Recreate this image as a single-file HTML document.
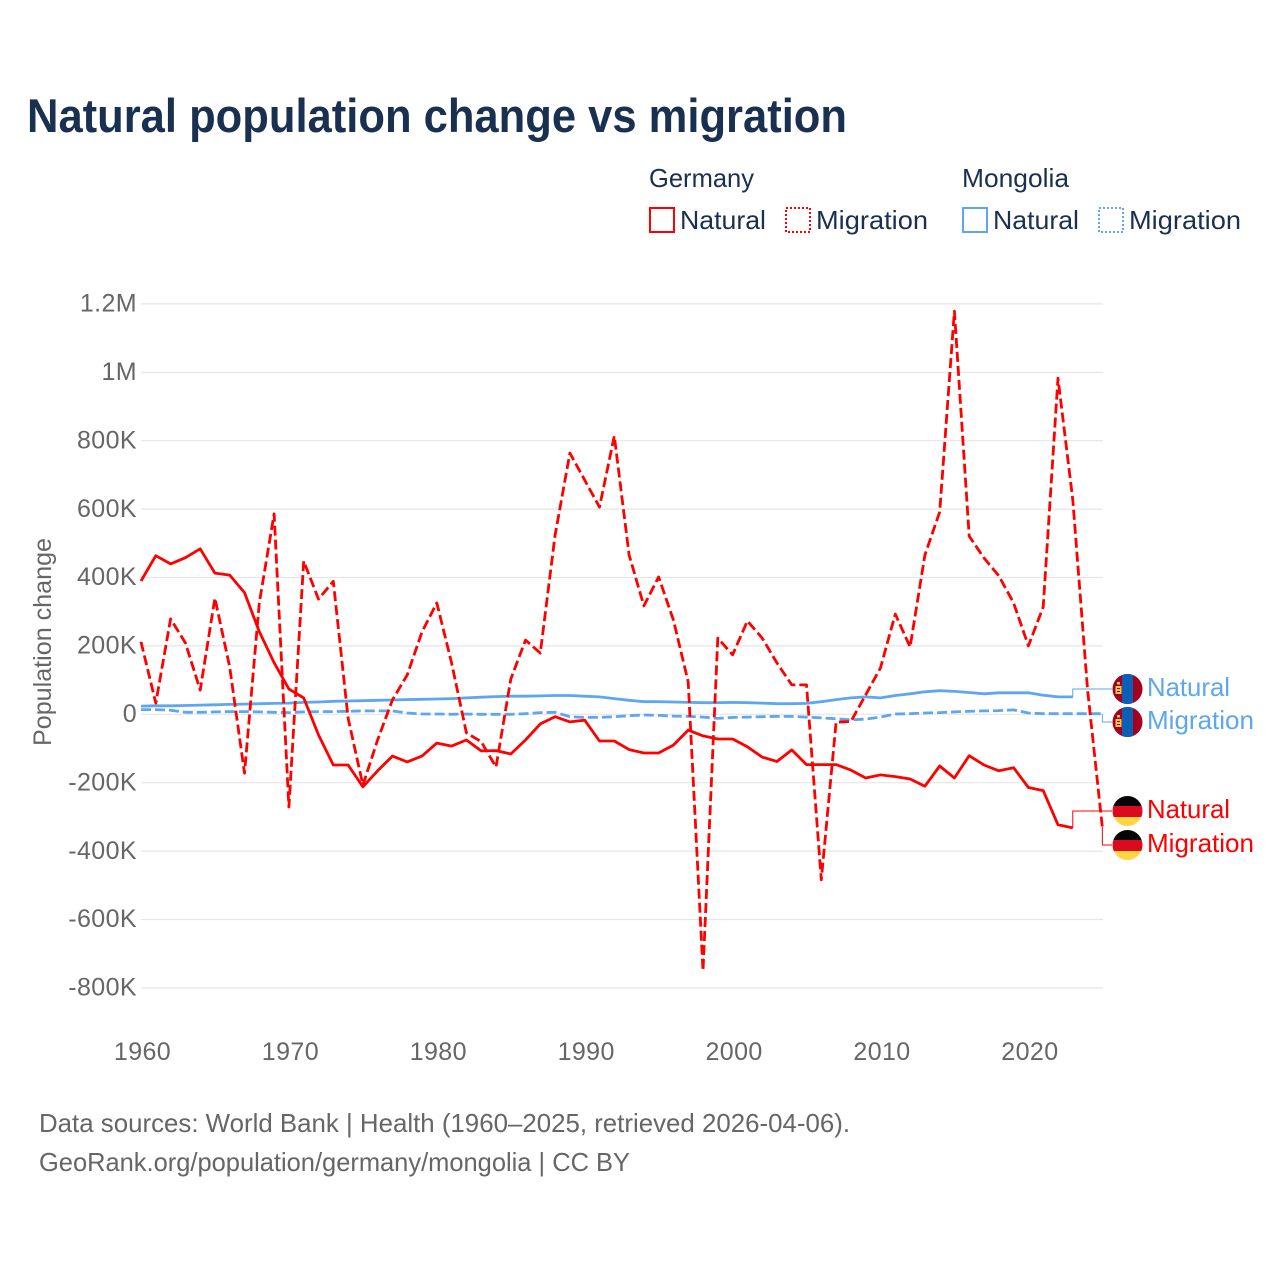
<!DOCTYPE html>
<html lang="en">
<head>
<meta charset="utf-8">
<title>Natural population change vs migration</title>
<style>
html,body{margin:0;padding:0;background:#fff;width:1280px;height:1280px;overflow:hidden}
svg{display:block}
text{font-family:"Liberation Sans",sans-serif}
.dark{fill:#1a3050}
.grey{fill:#666}
.tick{font-size:25px;fill:#666;letter-spacing:.4px}
.lab{font-size:26px}
</style>
</head>
<body>
<svg id="chart" width="1280" height="1280" viewBox="0 0 1280 1280" xmlns="http://www.w3.org/2000/svg">
  <defs>
    <clipPath id="flag-clip"><circle cx="0" cy="0" r="15"></circle></clipPath>
    <g id="flag-mn">
      <g clip-path="url(#flag-clip)">
        <rect x="-15" y="-15" width="30" height="30" fill="#a5001f"></rect>
        <rect x="-5.5" y="-15" width="11" height="30" fill="#0b5fb5"></rect>
        <rect x="-12" y="-3" width="6" height="8" fill="#f6c945"></rect>
        <rect x="-10.5" y="-7" width="3" height="2.5" fill="#f6c945"></rect>
        <rect x="-10.5" y="-1" width="3" height="1" fill="#a5001f"></rect>
        <rect x="-10.5" y="2" width="3" height="1" fill="#a5001f"></rect>
      </g>
    </g>
    <g id="flag-de">
      <g clip-path="url(#flag-clip)">
        <rect x="-15" y="-15" width="30" height="10" fill="#050505"></rect>
        <rect x="-15" y="-5" width="30" height="11" fill="#dc0a1e"></rect>
        <rect x="-15" y="6" width="30" height="10" fill="#ffd544"></rect>
      </g>
    </g>
  </defs>

  <text class="dark" x="27" y="132" font-size="47" font-weight="700" textLength="820" lengthAdjust="spacingAndGlyphs">Natural population change vs migration</text>

  <g>
    <text class="dark lab" x="649" y="187" textLength="105" lengthAdjust="spacingAndGlyphs">Germany</text>
    <text class="dark lab" x="962" y="187" textLength="107" lengthAdjust="spacingAndGlyphs">Mongolia</text>
    <rect x="650" y="208" width="24" height="24" fill="none" stroke="#ff0000" stroke-width="2"></rect>
    <text class="dark lab" x="680" y="229" textLength="86" lengthAdjust="spacingAndGlyphs">Natural</text>
    <rect x="786" y="208" width="24" height="24" fill="none" stroke="#ff0000" stroke-width="2" stroke-dasharray="2,2"></rect>
    <text class="dark lab" x="816" y="229" textLength="112" lengthAdjust="spacingAndGlyphs">Migration</text>
    <rect x="963" y="208" width="24" height="24" fill="none" stroke="#5ea6ee" stroke-width="2"></rect>
    <text class="dark lab" x="993" y="229" textLength="86" lengthAdjust="spacingAndGlyphs">Natural</text>
    <rect x="1099" y="208" width="24" height="24" fill="none" stroke="#5ea6ee" stroke-width="2" stroke-dasharray="2,2"></rect>
    <text class="dark lab" x="1129" y="229" textLength="112" lengthAdjust="spacingAndGlyphs">Migration</text>
  </g>

  <g id="grid"></g>
  <g id="yticks"></g>
  <g id="xticks"></g>
  <text class="grey" transform="translate(51 642) rotate(-90)" text-anchor="middle" font-size="25" textLength="208" lengthAdjust="spacingAndGlyphs">Population change</text>
  <g id="series"></g>
  <g id="labels"></g>

  <text class="grey" x="39" y="1132" font-size="26" textLength="811" lengthAdjust="spacingAndGlyphs">Data sources: World Bank | Health (1960–2025, retrieved 2026-04-06).</text>
  <text class="grey" x="39" y="1171" font-size="26" textLength="591" lengthAdjust="spacingAndGlyphs">GeoRank.org/population/germany/mongolia | CC BY</text>
</svg>
<script>
const startYear = 1960;
const xTickYears = [1960, 1970, 1980, 1990, 2000, 2010, 2020];
const yTickValues = [-800, -600, -400, -200, 0, 200, 400, 600, 800, 1000, 1200];
const yTickLabels = ['-800K', '-600K', '-400K', '-200K', '0', '200K', '400K', '600K', '800K', '1M', '1.2M'];

// values in thousands, one per year from 1960
const germanyNatural = [
  389, 463, 439, 457, 483, 412, 406, 355, 241, 150,
  73, 47, -61, -149, -149, -213, -166, -123, -140, -123,
  -85, -94, -76, -108, -107, -117, -76, -29, -8, -23,
  -18, -79, -79, -104, -114, -114, -91, -47, -64, -73,
  -73, -96, -126, -139, -105, -148, -148, -148, -164, -187,
  -178, -183, -190, -211, -152, -187, -122, -149, -166, -157,
  -215, -224, -324, -333
];
const germanyMigration = [
  211, 32, 278, 208, 70, 339, 137, -173, 325, 585,
  -272, 447, 336, 388, -12, -208, -76, 41, 114, 240,
  325, 149, -55, -81, -155, 102, 216, 178, 523, 763,
  684, 605, 813, 465, 316, 401, 275, 94, -751, 222,
  173, 272, 222, 149, 85, 85, -485, -24, -22, 56,
  135, 292, 196, 465, 591, 1178, 520, 456, 404, 325,
  199, 313, 982, 626, 70, -330
];
const mongoliaNatural = [
  23, 24, 24, 25, 26, 27, 28, 29, 30, 31,
  32, 34, 35, 37, 38, 39, 40, 41, 42, 43,
  44, 45, 47, 49, 51, 52, 52, 53, 54, 54,
  52, 50, 45, 40, 36, 36, 35, 34, 33, 33,
  34, 33, 32, 30, 30, 31, 36, 42, 47, 50,
  47, 54, 59, 65, 68, 66, 63, 59, 62, 62,
  62, 55, 50, 50
];
const mongoliaMigration = [
  13, 13, 11, 5, 5, 6, 7, 7, 6, 5,
  4, 6, 7, 7, 8, 9, 9, 9, 3, 0,
  0, -1, 0, -1, -1, -1, 1, 4, 5, -8,
  -10, -10, -8, -5, -3, -4, -6, -7, -9, -13,
  -10, -9, -8, -7, -7, -9, -11, -14, -17, -15,
  -9, 0, 1, 3, 4, 6, 8, 9, 10, 12,
  3, 1, 1, 1, 1, 1
];

const NS = 'http://www.w3.org/2000/svg';
function xScale(year) { return 141 + (year - startYear) * 14.79; }
function yScale(v) { return 714 - v * 0.342; }
function make(tag, attrs, parent) {
  const el = document.createElementNS(NS, tag);
  for (const k in attrs) el.setAttribute(k, attrs[k]);
  parent.appendChild(el);
  return el;
}

const grid = document.getElementById('grid');
const yticks = document.getElementById('yticks');
const xticks = document.getElementById('xticks');
const seriesLayer = document.getElementById('series');
const labelsLayer = document.getElementById('labels');

yTickValues.forEach(function (v, i) {
  const line = make('line', { x1: 141, x2: 1103, y1: yScale(v) + 0.3, y2: yScale(v) + 0.3, stroke: '#e6e6e6', 'stroke-width': 1.2 }, grid);
  
  
  const t = make('text', { x: 137, y: yScale(v) + 8, 'text-anchor': 'end', class: 'tick' }, yticks);
  t.textContent = yTickLabels[i];
  
  
});

xTickYears.forEach(function (yr) {
  const t = make('text', { x: xScale(yr) + 1.5, y: 1060, 'text-anchor': 'middle', class: 'tick' }, xticks);
  t.textContent = String(yr);
  
  
});

function drawSeries(values, color, dashed, seriesName) {
  const pts = values.map(function (v, i) {
    return xScale(startYear + i).toFixed(1) + ',' + yScale(v).toFixed(1);
  }).join(' ');
  const attrs = { points: pts, fill: 'none', stroke: color, 'stroke-width': 2.8, 'stroke-linejoin': 'round' };
  if (dashed) attrs['stroke-dasharray'] = '10,4';
  const line = make('polyline', attrs, seriesLayer);
  
  
}

function drawEndLabel(values, color, labelY, flagId, text, width, connectorName, flagName, labelName) {
  const lastX = xScale(startYear + values.length - 1);
  const lastY = yScale(values[values.length - 1]);
  const conn = make('path', { d: 'M' + lastX + ' ' + lastY + 'V' + labelY + 'H1112', fill: 'none', stroke: color, 'stroke-width': 1 }, labelsLayer);
  
  
  const flag = make('use', { href: '#' + flagId, transform: 'translate(1127.5 ' + labelY + ')' }, labelsLayer);
  
  
  const t = make('text', { x: 1147, y: labelY + 7, fill: color, 'font-size': 26, textLength: width, lengthAdjust: 'spacingAndGlyphs' }, labelsLayer);
  t.textContent = text;
  
  
}

drawSeries(mongoliaNatural, '#5ea6ee', false, 'line-mongolia-natural');
drawSeries(mongoliaMigration, '#5ea6ee', true, 'line-mongolia-migration');
drawSeries(germanyNatural, '#ff0000', false, 'line-germany-natural');
drawSeries(germanyMigration, '#ff0000', true, 'line-germany-migration');

drawEndLabel(mongoliaNatural, '#5ea6ee', 689, 'flag-mn', 'Natural', 83, 'connector-mongolia-natural', 'flag-mongolia-natural', 'end-label-mongolia-natural');
drawEndLabel(mongoliaMigration, '#5ea6ee', 722, 'flag-mn', 'Migration', 107, 'connector-mongolia-migration', 'flag-mongolia-migration', 'end-label-mongolia-migration');
drawEndLabel(germanyNatural, '#ff0000', 811, 'flag-de', 'Natural', 83, 'connector-germany-natural', 'flag-germany-natural', 'end-label-germany-natural');
drawEndLabel(germanyMigration, '#ff0000', 845, 'flag-de', 'Migration', 107, 'connector-germany-migration', 'flag-germany-migration', 'end-label-germany-migration');
</script>
</body>
</html>
